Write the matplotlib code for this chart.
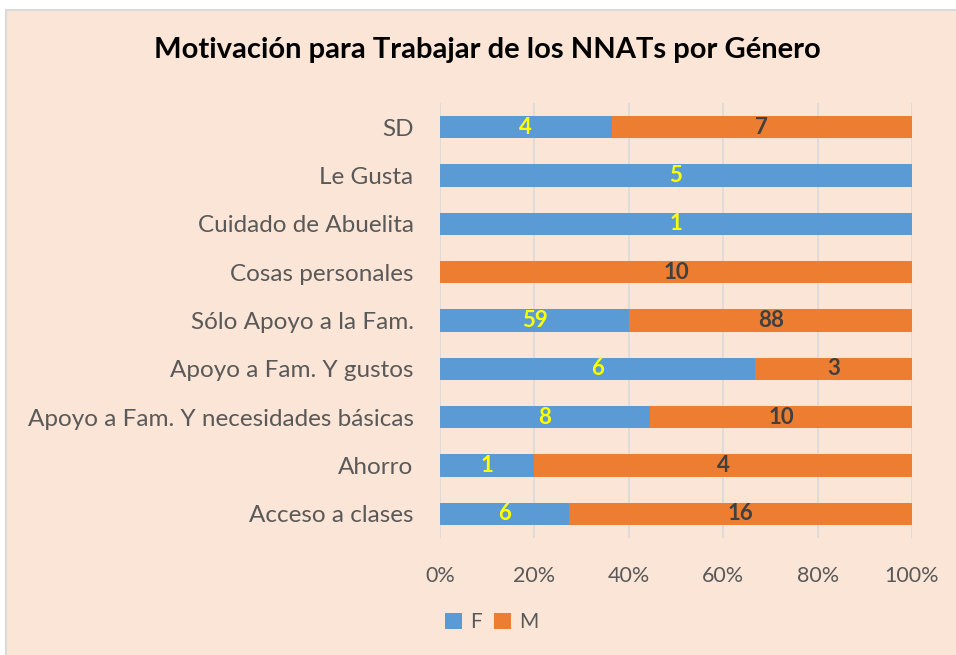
import matplotlib.pyplot as plt
from matplotlib.patches import Rectangle
import numpy as np

categories = ["Acceso a clases", "Ahorro", "Apoyo a Fam. Y necesidades básicas",
              "Apoyo a Fam. Y gustos", "Sólo Apoyo a la Fam.", "Cosas personales",
              "Cuidado de Abuelita", "Le Gusta", "SD"]
f_counts = np.array([6, 1, 8, 6, 59, 0, 1, 5, 4])
m_counts = np.array([16, 4, 10, 3, 88, 10, 0, 0, 7])
x_ticks = [0, 20, 40, 60, 80, 100]

BG = "#FBE5D6"
BLUE = "#5B9BD5"
ORANGE = "#ED7D31"

plt.rcParams['font.family'] = ['Lato', 'DejaVu Sans']

fig = plt.figure(figsize=(9.56, 6.55), dpi=100, facecolor="white")
# chart area with thin grey border
fig.patches.append(Rectangle((6 / 956, -0.01), 1, 1.01 - 10 / 655, transform=fig.transFigure,
                             facecolor=BG, edgecolor="#D9D9D9", linewidth=1.5, zorder=-10))

ax = fig.add_axes([440 / 956, 1 - 538 / 655, 472 / 956, 435 / 655])
ax.set_facecolor("none")

total = f_counts + m_counts
f_pct = f_counts / total * 100
m_pct = m_counts / total * 100
y = np.arange(len(categories))

ax.barh(y, f_pct, height=0.46, color=BLUE, label="F", zorder=3)
ax.barh(y, m_pct, left=f_pct, height=0.46, color=ORANGE, label="M", zorder=3)

for i in range(len(categories)):
    if f_counts[i]:
        ax.text(f_pct[i] / 2, y[i], str(f_counts[i]), ha="center", va="center",
                color="#FFFF00", fontsize=16, fontweight="bold", zorder=4)
    if m_counts[i]:
        ax.text(f_pct[i] + m_pct[i] / 2, y[i], str(m_counts[i]), ha="center", va="center",
                color="#404040", fontsize=16, fontweight="bold", zorder=4)

ax.set_xlim(0, 100)
ax.set_ylim(-0.5, len(categories) - 0.5)
ax.set_xticks(x_ticks)
ax.set_xticklabels([f"{t}%" for t in x_ticks])
ax.set_yticks(y)
ax.set_yticklabels(categories)
ax.tick_params(axis="y", length=0, labelsize=17.5, labelcolor="#595959", pad=19)
ax.tick_params(axis="x", length=0, labelsize=15.5, labelcolor="#595959", pad=20)
ax.grid(axis="x", color="#D9D9D9", linewidth=1.2, zorder=0)
for s in ax.spines.values():
    s.set_visible(False)

fig.text(487 / 956, 1 - 50 / 655, "Motivación para Trabajar de los NNATs por Género",
         ha="center", va="center", fontsize=21, fontweight="bold", color="black")

ax.legend(loc="center", bbox_to_anchor=(492 / 956, 1 - 622 / 655), bbox_transform=fig.transFigure,
          ncol=2, frameon=False, fontsize=15, handlelength=0.8, handleheight=0.8,
          handletextpad=0.4, columnspacing=0.6, labelcolor="#595959")

fig.savefig("out.png", dpi=100, facecolor="white")
